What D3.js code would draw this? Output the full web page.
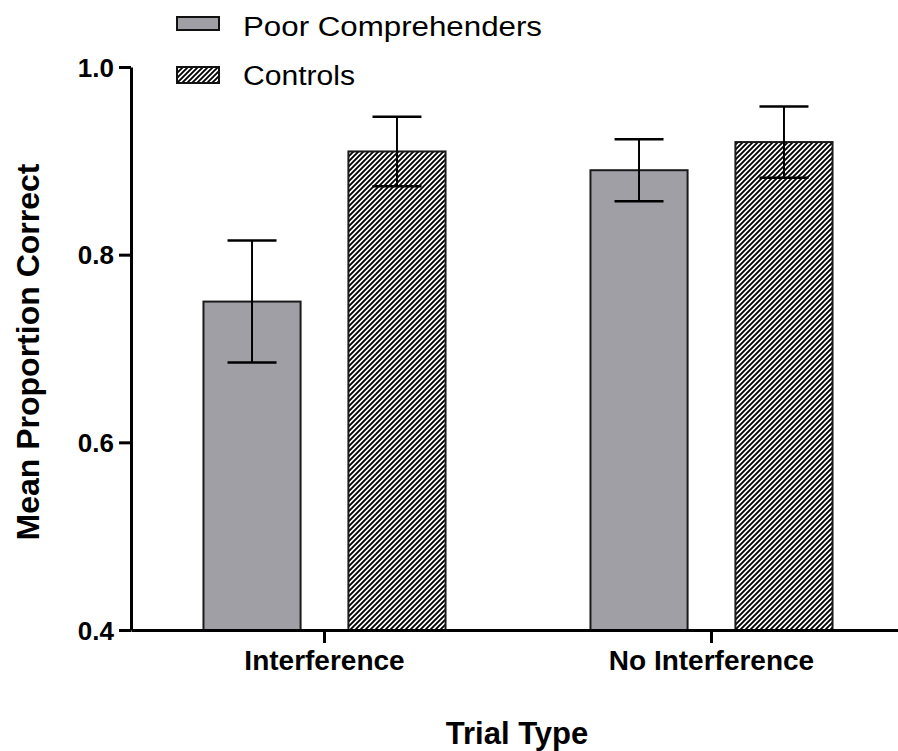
<!DOCTYPE html>
<html>
<head>
<meta charset="utf-8">
<script src="https://cdn.jsdelivr.net/npm/d3@7/dist/d3.min.js"></script>
<style>
  html, body { margin: 0; padding: 0; background: #fff; }
  svg { display: block; font-family: "Liberation Sans", Arial, sans-serif; }
</style>
</head>
<body>
<svg id="chart" width="898" height="751"></svg>
<script>
// ---- data ----
const categories = ["Interference", "No Interference"];
const groups = ["Poor Comprehenders", "Controls"];
const poorMeans = [0.75, 0.89];
const poorErrors = [0.065, 0.033];
const controlMeans = [0.91, 0.92];
const controlErrors = [0.037, 0.038];
const yTicks = [0.4, 0.6, 0.8, 1.0];

const rows = [];
categories.forEach((c, i) => {
  rows.push({cat: c, group: groups[0], mean: poorMeans[i], err: poorErrors[i]});
  rows.push({cat: c, group: groups[1], mean: controlMeans[i], err: controlErrors[i]});
});

const svg = d3.select("#chart");
const FONT = "'Liberation Sans', Arial, sans-serif";

// patterns
const defs = svg.append("defs");
const pat = defs.append("pattern")
  .attr("id", "hatch")
  .attr("patternUnits", "userSpaceOnUse")
  .attr("width", 5).attr("height", 5);
pat.append("rect").attr("width", 5).attr("height", 5).attr("fill", "#fff");
pat.append("path")
  .attr("d", "M-1,1 l2,-2 M0,5 l5,-5 M4,6 l2,-2")
  .attr("stroke", "#000").attr("stroke-width", 1.9);

const fills = {"Poor Comprehenders": "#a19fa6", "Controls": "url(#hatch)"};

// scales
const x0 = d3.scaleBand().domain(categories).range([131, 905]).padding(0);
const x1 = d3.scaleBand().domain(groups).range([0, x0.bandwidth()])
  .paddingInner(0.33).paddingOuter(0.5);
const y = d3.scaleLinear().domain([0.4, 1.0]).range([630, 67]);

// bars
svg.append("g").selectAll("rect").data(rows).join("rect")
  .attr("x", d => x0(d.cat) + x1(d.group))
  .attr("y", d => y(d.mean))
  .attr("width", x1.bandwidth())
  .attr("height", d => y(0.4) - y(d.mean))
  .attr("fill", d => fills[d.group])
  .attr("stroke", "#1a1a1a")
  .attr("stroke-width", 2);

// error bars
const capW = 49;
const eg = svg.append("g").attr("stroke", "#000").attr("fill", "none");
rows.forEach(d => {
  const cx = x0(d.cat) + x1(d.group) + x1.bandwidth() / 2;
  const yt = y(d.mean + d.err), yb = y(d.mean - d.err);
  eg.append("line").attr("x1", cx).attr("x2", cx).attr("y1", yt).attr("y2", yb).attr("stroke-width", 2);
  eg.append("line").attr("x1", cx - capW/2).attr("x2", cx + capW/2).attr("y1", yt).attr("y2", yt).attr("stroke-width", 2.5);
  eg.append("line").attr("x1", cx - capW/2).attr("x2", cx + capW/2).attr("y1", yb).attr("y2", yb).attr("stroke-width", 2.5);
});

// y axis
const yAxis = svg.append("g").attr("transform", "translate(131,0)")
  .call(d3.axisLeft(y).tickValues(yTicks).tickFormat(d3.format(".1f"))
    .tickSize(12).tickSizeOuter(0).tickPadding(5));
yAxis.select(".domain").attr("stroke", "#000").attr("stroke-width", 3);
yAxis.selectAll(".tick line").attr("stroke", "#000").attr("stroke-width", 3);
yAxis.selectAll(".tick text").attr("font-family", FONT).attr("font-size", 26)
  .attr("font-weight", "bold").attr("fill", "#000").attr("dy", "0.35em");

// x axis
const xAxis = svg.append("g").attr("transform", "translate(0,630)")
  .call(d3.axisBottom(x0).tickSize(13).tickSizeOuter(0).tickPadding(7));
xAxis.select(".domain").attr("stroke", "#000").attr("stroke-width", 3);
xAxis.selectAll(".tick line").attr("stroke", "#000").attr("stroke-width", 3);
xAxis.selectAll(".tick text").attr("font-family", FONT).attr("font-size", 28)
  .attr("font-weight", "bold").attr("fill", "#000");

// axis titles
svg.append("text")
  .attr("x", 517).attr("y", 744)
  .attr("text-anchor", "middle")
  .attr("font-family", FONT).attr("font-size", 31).attr("font-weight", "bold")
  .text("Trial Type");

svg.append("text")
  .attr("transform", "translate(39,352) rotate(-90)")
  .attr("text-anchor", "middle")
  .attr("font-family", FONT).attr("font-size", 32).attr("font-weight", "bold")
  .text("Mean Proportion Correct");

// legend
const legendRows = [
  {group: groups[0], sy: 17, sh: 13, ty: 36, tl: 299},
  {group: groups[1], sy: 67, sh: 16, ty: 85, tl: 112}
];
const lg = svg.append("g");
legendRows.forEach(r => {
  lg.append("rect").attr("x", 177).attr("y", r.sy).attr("width", 42).attr("height", r.sh)
    .attr("fill", fills[r.group]).attr("stroke", "#111").attr("stroke-width", 2);
  lg.append("text").attr("x", 243).attr("y", r.ty)
    .attr("font-family", FONT).attr("font-size", 27)
    .attr("textLength", r.tl).attr("lengthAdjust", "spacingAndGlyphs")
    .text(r.group);
});
</script>
</body>
</html>
